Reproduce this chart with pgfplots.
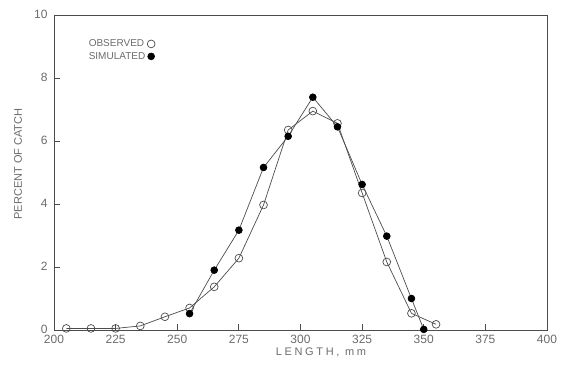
\documentclass[border=0pt]{standalone}
\usepackage{fontspec}
\setmainfont{Liberation Sans}
\newfontfamily\labfont[LetterSpace=24]{Liberation Sans}
\usepackage{pgfplots}
\pgfplotsset{compat=1.18}
\definecolor{ink}{gray}{0.30}
\definecolor{txt}{gray}{0.42}
\begin{document}
\begin{tikzpicture}[x=1pt,y=1pt]
\useasboundingbox (-54,-38) rectangle (516,330);
\begin{axis}[
  at={(0,0)}, anchor=south west,
  scale only axis, width=493pt, height=315pt,
  xmin=200, xmax=400, ymin=0, ymax=10,
  xtick={200,225,...,400}, ytick={0,2,4,6,8,10},
  tick align=inside, xtick pos=bottom, ytick pos=left,
  major tick length=6pt,
  axis line style={ink, line width=0.8pt},
  tick style={ink, line width=0.8pt},
  /pgf/number format/assume math mode=true,
  ticklabel style={font=\fontsize{12}{12}\selectfont, text=txt},
  xticklabel style={yshift=-2pt},
  yticklabel style={xshift=-3pt, yshift=1pt},
  xlabel={LENGTH,\ mm}, ylabel={PERCENT OF CATCH},
  xlabel style={at={(rel axis cs:0.5416,0)}, anchor=center, yshift=-22pt, font=\labfont\fontsize{11}{11}\selectfont, text=txt},
  ylabel style={at={(rel axis cs:-0.073,0.527)}, anchor=center, rotate=0, font=\fontsize{11}{11}\selectfont, text=txt},
  legend style={at={(rel axis cs:0.06,0.935)}, anchor=north west, draw=none, fill=none,
    font=\fontsize{10}{10}\selectfont, text=txt, row sep=0pt},
  legend plot pos=right, legend cell align=left,
  legend image code/.code={\draw[#1, only marks] plot coordinates {(0.1cm,0cm)};},
  clip=false,
]
\addplot[ink, line width=0.7pt, mark=o, mark size=3.9pt, mark options={fill=white, line width=0.7pt}] coordinates {
(205,0.05) (215,0.05) (225,0.05) (235,0.13) (245,0.42) (255,0.7) (265,1.37) (275,2.28) (285,3.97) (295,6.35) (305,6.95) (315,6.56) (325,4.35) (335,2.16) (345,0.53) (355,0.18)
};
\addlegendentry{OBSERVED}
\addplot[ink, line width=0.7pt, mark=*, mark size=3.4pt, mark options={fill=black, draw=black}] coordinates {
(255,0.52) (265,1.9) (275,3.17) (285,5.16) (295,6.15) (305,7.39) (315,6.45) (325,4.62) (335,2.98) (345,1.0) (350,0.02)
};
\addlegendentry{SIMULATED}
\end{axis}
\end{tikzpicture}
\end{document}
